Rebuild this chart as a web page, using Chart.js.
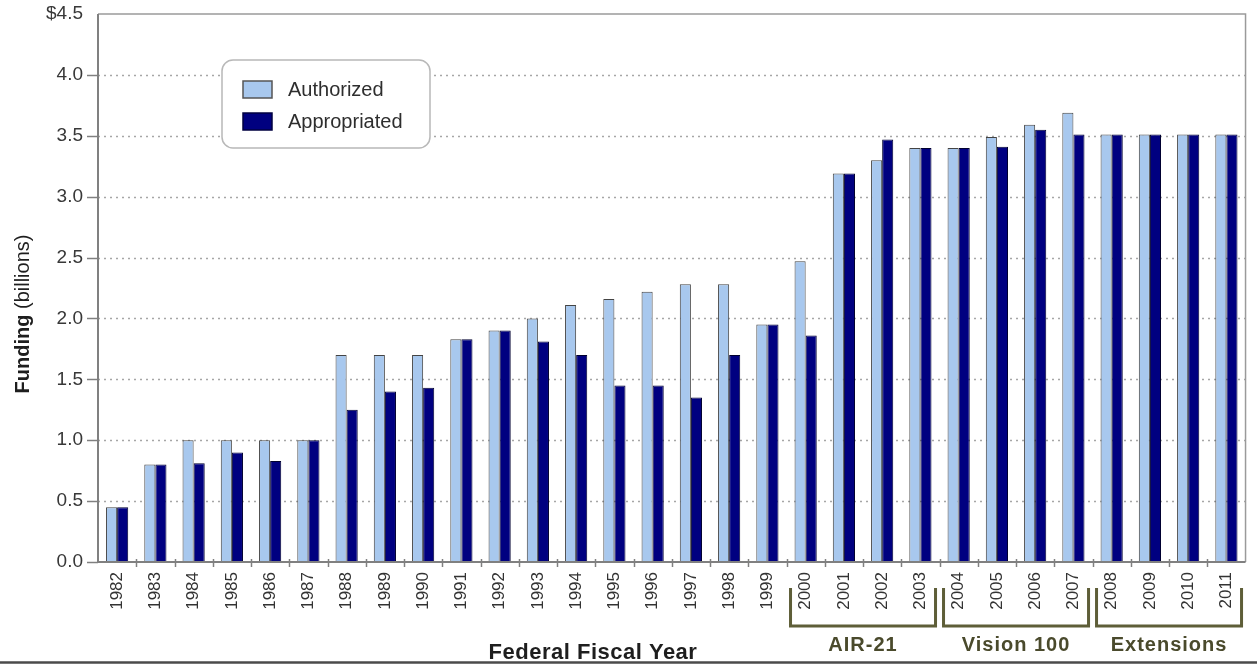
<!DOCTYPE html>
<html>
<head>
<meta charset="utf-8">
<script src="https://cdn.jsdelivr.net/npm/chart.js@4.4.1/dist/chart.umd.min.js"></script>
<style>
  html, body { margin: 0; padding: 0; background: #ffffff; }
  #wrap { position: relative; width: 1257px; height: 664px; }
  canvas { display: block; }
</style>
</head>
<body>
<div id="wrap"><canvas id="c" width="1257" height="664"></canvas></div>
<script>
// ---- data ----
const years = ['1982','1983','1984','1985','1986','1987','1988','1989','1990','1991',
  '1992','1993','1994','1995','1996','1997','1998','1999','2000','2001',
  '2002','2003','2004','2005','2006','2007','2008','2009','2010','2011'];
const authorized = [0.45,0.80,1.00,1.00,1.00,1.00,1.70,1.70,1.70,1.83,
  1.90,2.00,2.11,2.16,2.22,2.28,2.28,1.95,2.47,3.19,
  3.30,3.40,3.40,3.49,3.59,3.69,3.51,3.51,3.51,3.51];
const appropriated = [0.45,0.80,0.81,0.90,0.83,1.00,1.25,1.40,1.43,1.83,
  1.90,1.81,1.70,1.45,1.45,1.35,1.70,1.95,1.86,3.19,
  3.47,3.40,3.40,3.41,3.55,3.51,3.51,3.51,3.51,3.51];
const yTicks = [0,0.5,1.0,1.5,2.0,2.5,3.0,3.5,4.0,4.5];
const seriesNames = ['Authorized','Appropriated'];
const programs = [
  {label:'AIR-21', from:'2000', to:'2003'},
  {label:'Vision 100', from:'2004', to:'2007'},
  {label:'Extensions', from:'2008', to:'2011'}
];
const xTitle = 'Federal Fiscal Year';
const yTitleBold = 'Funding';
const yTitleRest = '(billions)';

const FONT = '"Liberation Sans", Arial, Helvetica, sans-serif';
const colA = '#a8c8ee';
const colP = '#000080';

const decorPlugin = {
  id: 'decor',
  beforeDatasetsDraw(chart) {
    const {ctx, chartArea: ca, scales: {y}} = chart;
    ctx.save();
    ctx.strokeStyle = '#a6a6a6';
    ctx.lineWidth = 1.5;
    ctx.setLineDash([2, 4]);
    yTicks.forEach(v => {
      if (v <= 0 || v >= 4.5) return;
      const py = Math.round(y.getPixelForValue(v)) + 0.5;
      ctx.beginPath();
      ctx.moveTo(ca.left, py);
      ctx.lineTo(ca.right, py);
      ctx.stroke();
    });
    ctx.restore();
  },
  afterDraw(chart) {
    const {ctx, chartArea: ca, scales: {x, y}} = chart;
    ctx.save();
    // frame
    ctx.setLineDash([]);
    ctx.strokeStyle = '#9a9a9a';
    ctx.lineWidth = 1.5;
    ctx.beginPath();
    ctx.moveTo(ca.left, ca.top);
    ctx.lineTo(ca.right, ca.top);
    ctx.lineTo(ca.right, ca.bottom);
    ctx.stroke();
    ctx.strokeStyle = '#808080';
    ctx.lineWidth = 2;
    ctx.beginPath();
    ctx.moveTo(ca.left, ca.top);
    ctx.lineTo(ca.left, ca.bottom);
    ctx.lineTo(ca.right, ca.bottom);
    ctx.stroke();
    // y tick marks
    ctx.lineWidth = 1.5;
    yTicks.forEach(v => {
      if (v >= 4.5) return;
      const py = Math.round(y.getPixelForValue(v)) + 0.5;
      ctx.beginPath();
      ctx.moveTo(ca.left - 11, py);
      ctx.lineTo(ca.left, py);
      ctx.stroke();
    });
    // x tick marks at category boundaries
    const cw = (ca.right - ca.left) / years.length;
    for (let i = 1; i < years.length; i++) {
      const px = Math.round(x.getPixelForValue(i) - cw / 2) + 0.5;
      ctx.beginPath();
      ctx.moveTo(px, ca.bottom - 3);
      ctx.lineTo(px, ca.bottom + 5);
      ctx.stroke();
    }

    // legend box
    const lx = 222, ly = 60, lw = 208, lh = 88;
    ctx.fillStyle = '#ffffff';
    ctx.strokeStyle = '#b8b8b8';
    ctx.lineWidth = 1.5;
    ctx.beginPath();
    ctx.roundRect(lx, ly, lw, lh, 11);
    ctx.fill();
    ctx.stroke();
    const ds = chart.data.datasets;
    const rows = [89, 121];
    ds.forEach((d, i) => {
      ctx.fillStyle = d.backgroundColor;
      ctx.fillRect(243, rows[i] - 8, 29, 17);
      ctx.strokeStyle = i === 0 ? '#555555' : '#000040';
      ctx.lineWidth = 1.5;
      ctx.strokeRect(243, rows[i] - 8, 29, 17);
      ctx.fillStyle = '#2e2e2e';
      ctx.font = '20px ' + FONT;
      ctx.textAlign = 'left';
      ctx.textBaseline = 'middle';
      ctx.fillText(d.label, 288, rows[i] + 1);
    });

    // y-axis title (mixed weight)
    ctx.save();
    ctx.translate(23, 314);
    ctx.rotate(-Math.PI / 2);
    ctx.textBaseline = 'middle';
    ctx.fillStyle = '#1e1e1e';
    ctx.font = 'bold 20px ' + FONT;
    const w1 = ctx.measureText(yTitleBold + ' ').width;
    ctx.font = '20px ' + FONT;
    const w2 = ctx.measureText(yTitleRest).width;
    const start = -(w1 + w2) / 2;
    ctx.textAlign = 'left';
    ctx.font = 'bold 20px ' + FONT;
    ctx.fillText(yTitleBold + ' ', start, 0);
    ctx.font = '20px ' + FONT;
    ctx.fillText(yTitleRest, start + w1, 0);
    ctx.restore();

    // x-axis title
    ctx.fillStyle = '#1e1e1e';
    ctx.font = 'bold 22px ' + FONT;
    ctx.textAlign = 'center';
    ctx.textBaseline = 'alphabetic';
    try { ctx.letterSpacing = '0.5px'; } catch (e) {}
    ctx.fillText(xTitle, 593, 659);
    try { ctx.letterSpacing = '0px'; } catch (e) {}

    // program brackets
    ctx.strokeStyle = '#5e5e38';
    ctx.lineWidth = 3;
    programs.forEach(p => {
      const i0 = years.indexOf(p.from), i1 = years.indexOf(p.to);
      const left = x.getPixelForValue(i0) - cw / 2 + 4;
      const right = x.getPixelForValue(i1) + cw / 2 - 4;
      ctx.beginPath();
      ctx.moveTo(left, 588);
      ctx.lineTo(left, 626);
      ctx.lineTo(right, 626);
      ctx.lineTo(right, 588);
      ctx.stroke();
      ctx.fillStyle = '#4a4a2c';
      ctx.font = 'bold 20px ' + FONT;
      try { ctx.letterSpacing = '1px'; } catch (e) {}
      ctx.textAlign = 'center';
      ctx.textBaseline = 'alphabetic';
      ctx.fillText(p.label, (left + right) / 2, 651);
      try { ctx.letterSpacing = '0px'; } catch (e) {}
    });

    // bottom rule
    ctx.strokeStyle = '#4a4a4a';
    ctx.lineWidth = 2.5;
    ctx.beginPath();
    ctx.moveTo(0, 662.5);
    ctx.lineTo(1257, 662.5);
    ctx.stroke();
    ctx.restore();
  }
};

new Chart(document.getElementById('c'), {
  type: 'bar',
  data: {
    labels: years,
    datasets: [
      { label: seriesNames[0], data: authorized, backgroundColor: colA,
        borderColor: '#444444', borderWidth: 1, borderSkipped: 'bottom' },
      { label: seriesNames[1], data: appropriated, backgroundColor: colP,
        borderColor: '#000030', borderWidth: 1, borderSkipped: 'bottom' }
    ]
  },
  options: {
    responsive: false,
    animation: false,
    devicePixelRatio: 1,
    layout: { padding: { top: 14, right: 11, left: 0, bottom: 0 } },
    datasets: { bar: { barPercentage: 1.0, categoryPercentage: 0.58 } },
    plugins: { legend: { display: false }, tooltip: { enabled: false } },
    scales: {
      x: {
        grid: { display: false, drawTicks: false },
        border: { display: false },
        ticks: {
          autoSkip: false, minRotation: 90, maxRotation: 90, padding: 10,
          color: '#333333', font: { family: FONT, size: 17 }
        },
        afterFit(s) { s.height = 102; }
      },
      y: {
        min: 0, max: 4.5,
        grid: { display: false, drawTicks: false },
        border: { display: false },
        afterBuildTicks(s) { s.ticks = yTicks.map(v => ({ value: v })); },
        ticks: {
          padding: 15, color: '#383838', font: { family: FONT, size: 19 },
          callback: v => (v === 4.5 ? '$' + v.toFixed(1) : v.toFixed(1))
        },
        afterFit(s) { s.width = 98; s.paddingTop = 0; s.paddingBottom = 0; }
      }
    }
  },
  plugins: [decorPlugin]
});
</script>
</body>
</html>
